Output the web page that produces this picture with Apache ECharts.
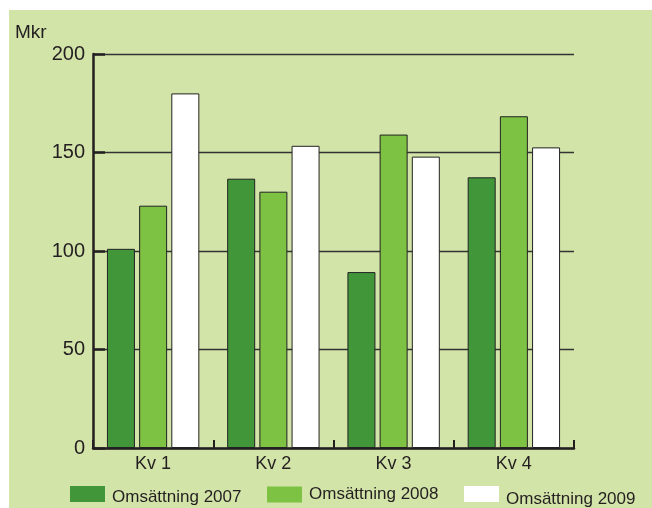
<!DOCTYPE html>
<html>
<head>
<meta charset="utf-8">
<style>
html,body{margin:0;padding:0;background:#ffffff;}
#chart{width:652px;height:508px;}
</style>
<script src="https://cdn.jsdelivr.net/npm/echarts@6/dist/echarts.min.js"></script>
</head>
<body>
<div id="chart"></div>
<script>
const categories = ['Kv 1', 'Kv 2', 'Kv 3', 'Kv 4'];
const seriesNames = ['Omsättning 2007', 'Omsättning 2008', 'Omsättning 2009'];
const values2007 = [101.1, 136.7, 89.3, 137.4];
const values2008 = [123.0, 130.1, 159.1, 168.4];
const values2009 = [180.0, 153.4, 147.9, 152.6];
const yTicks = [0, 50, 100, 150, 200];
const colors = ['#41963a', '#7dc242', '#ffffff'];
const bgColor = '#d3e4a9';
const font = 'Liberation Sans, Arial, sans-serif';

const chart = echarts.init(document.getElementById('chart'), null, {renderer: 'canvas'});

function barSeries(name, data, color) {
  return {
    name: name,
    type: 'bar',
    data: data,
    barWidth: 28,
    barGap: '15%',
    itemStyle: {color: color, borderColor: '#222222', borderWidth: 1},
    emphasis: {disabled: true}
  };
}

function legendFor(idx, left, top, lh, va) {
  return {
    show: true,
    left: left,
    top: top,
    padding: 0,
    itemWidth: 35,
    itemHeight: 16,
    selectedMode: false,
    icon: 'rect',
    itemStyle: {borderWidth: 0},
    data: [{name: seriesNames[idx], itemStyle: {color: colors[idx], borderWidth: 0}}],
    formatter: '{t|{name}}',
    textStyle: {
      fontFamily: font, fontSize: 17, color: '#231f20',
      rich: {t: {fontFamily: font, fontSize: 17, color: '#231f20', lineHeight: lh, verticalAlign: va, padding: [0, 0, 0, 2]}}
    }
  };
}

chart.setOption({
  animation: false,
  backgroundColor: 'transparent',
  graphic: [{
    type: 'rect', z: -100, silent: true,
    shape: {x: 9, y: 10, width: 643, height: 498},
    style: {fill: bgColor}
  }],
  title: {
    text: 'Mkr', left: 15, top: 23, padding: 0,
    textStyle: {fontFamily: font, fontSize: 19, fontWeight: 'normal', color: '#231f20'}
  },
  legend: [
    legendFor(0, 70, 486, 24, 'bottom'),
    legendFor(1, 267, 486, 17, 'middle'),
    legendFor(2, 464, 486, 27, 'bottom')
  ],
  grid: {left: 93, right: 78, top: 54, bottom: 60, containLabel: false},
  xAxis: {
    type: 'category',
    data: categories,
    boundaryGap: true,
    axisLine: {show: true, lineStyle: {color: '#231f20', width: 2.5}},
    axisTick: {show: true, inside: true, length: 8, lineStyle: {color: '#231f20', width: 2}},
    axisLabel: {fontFamily: font, fontSize: 18, color: '#231f20', margin: 7},
    splitLine: {show: false}
  },
  yAxis: {
    type: 'value',
    min: yTicks[0],
    max: yTicks[yTicks.length - 1],
    interval: yTicks[1] - yTicks[0],
    axisLine: {show: true, lineStyle: {color: '#231f20', width: 2.5}},
    axisTick: {show: true, inside: true, length: 12, lineStyle: {color: '#231f20', width: 2.5}},
    axisLabel: {fontFamily: font, fontSize: 20, color: '#231f20', margin: 8},
    splitLine: {show: true, lineStyle: {color: '#333333', width: 1.3}}
  },
  series: [
    barSeries(seriesNames[0], values2007, colors[0]),
    barSeries(seriesNames[1], values2008, colors[1]),
    barSeries(seriesNames[2], values2009, colors[2])
  ]
});
</script>
</body>
</html>
